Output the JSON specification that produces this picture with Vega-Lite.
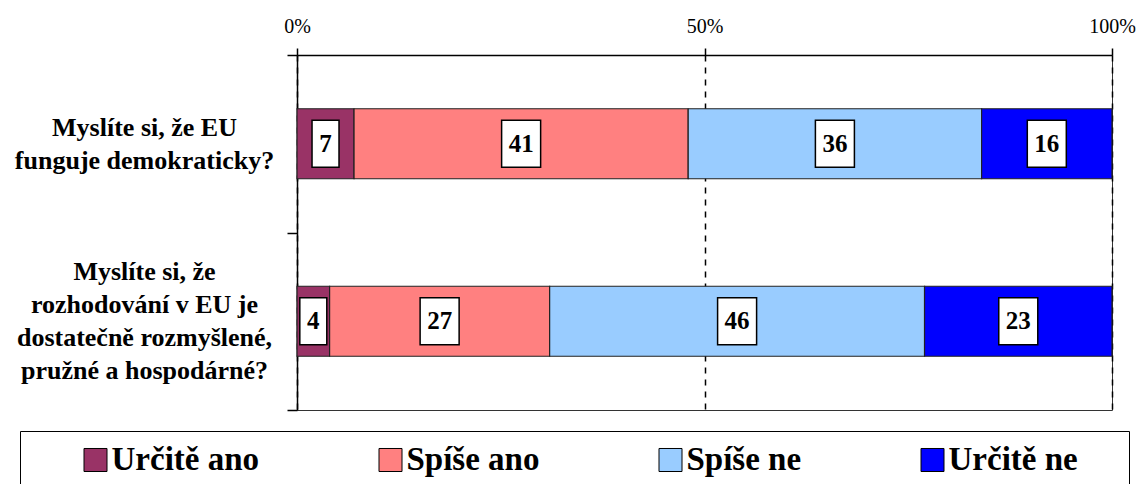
{
  "$schema": "https://vega.github.io/schema/vega-lite/v6.json",
  "width": 815,
  "height": 355,
  "autosize": {"type": "none"},
  "padding": {"left": 297, "top": 55, "right": 26, "bottom": 74},
  "background": "white",
  "data": {
    "values": [
      {"q": "Myslíte si, že EU funguje demokraticky?", "cat": "Určitě ano", "k": 1, "v": 7},
      {"q": "Myslíte si, že EU funguje demokraticky?", "cat": "Spíše ano", "k": 2, "v": 41},
      {"q": "Myslíte si, že EU funguje demokraticky?", "cat": "Spíše ne", "k": 3, "v": 36},
      {"q": "Myslíte si, že EU funguje demokraticky?", "cat": "Určitě ne", "k": 4, "v": 16},
      {"q": "Myslíte si, že rozhodování v EU je dostatečně rozmyšlené, pružné a hospodárné?", "cat": "Určitě ano", "k": 1, "v": 4},
      {"q": "Myslíte si, že rozhodování v EU je dostatečně rozmyšlené, pružné a hospodárné?", "cat": "Spíše ano", "k": 2, "v": 27},
      {"q": "Myslíte si, že rozhodování v EU je dostatečně rozmyšlené, pružné a hospodárné?", "cat": "Spíše ne", "k": 3, "v": 46},
      {"q": "Myslíte si, že rozhodování v EU je dostatečně rozmyšlené, pružné a hospodárné?", "cat": "Určitě ne", "k": 4, "v": 23}
    ]
  },
  "config": {
    "font": "Liberation Serif",
    "view": {"stroke": "#333", "strokeWidth": 1},
    "axis": {"labelColor": "black", "domainColor": "black", "tickColor": "black"}
  },
  "encoding": {
    "y": {
      "field": "q",
      "type": "nominal",
      "sort": ["Myslíte si, že EU funguje demokraticky?", "Myslíte si, že rozhodování v EU je dostatečně rozmyšlené, pružné a hospodárné?"],
      "title": null,
      "scale": {"paddingInner": 0, "paddingOuter": 0},
      "axis": {
        "orient": "left",
        "tickBand": "extent",
        "tickSize": 10,
        "tickWidth": 1.5,
        "domainWidth": 1.5,
        "labelAlign": "center",
        "labelBaseline": "middle",
        "labelPadding": 143,
        "labelFont": "Liberation Serif",
        "labelFontSize": 26,
        "labelFontWeight": "bold",
        "labelLineHeight": 33,
        "labelLimit": 0,
        "labelOffset": {"condition": {"test": "datum.value == 'Myslíte si, že EU funguje demokraticky?'", "value": -16.5}, "value": -49.5},
        "labelExpr": "datum.extra ? '' : (datum.value == 'Myslíte si, že EU funguje demokraticky?' ? ['Myslíte si, že EU', 'funguje demokraticky?'] : ['Myslíte si, že', 'rozhodování v EU je', 'dostatečně rozmyšlené,', 'pružné a hospodárné?'])"
      }
    }
  },
  "layer": [
    {
      "mark": {"type": "bar", "size": 70, "stroke": "#222", "strokeWidth": 1.2},
      "encoding": {
        "x": {
          "field": "v",
          "type": "quantitative",
          "stack": "zero",
          "title": null,
          "scale": {"domain": [0, 100], "nice": false},
          "axis": {
            "orient": "top",
            "values": [0, 50, 100],
            "labelExpr": "datum.value + '%'",
            "labelFlush": false,
            "grid": true,
            "gridColor": "black",
            "gridDash": [6, 6],
            "gridWidth": 1.5,
            "domainWidth": 1.5,
            "tickSize": 7,
            "tickWidth": 1.5,
            "labelPadding": 12,
            "labelFont": "Liberation Serif",
            "labelFontSize": 20,
            "labelFontWeight": "normal"
          }
        },
        "color": {
          "field": "cat",
          "type": "nominal",
          "scale": {
            "domain": ["Určitě ano", "Spíše ano", "Spíše ne", "Určitě ne"],
            "range": ["#993366", "#FF8080", "#99CCFF", "#0000FF"]
          },
          "legend": {
            "title": " ",
            "titleOrient": "right",
            "titleFontSize": 10,
            "titlePadding": 40,
            "orient": "none",
            "legendX": -277,
            "legendY": 376,
            "direction": "horizontal",
            "columnPadding": 67,
            "clipHeight": 35,
            "labelFont": "Liberation Serif",
            "labelFontSize": 33,
            "labelFontWeight": "bold",
            "labelColor": "black",
            "labelOffset": 4,
            "labelLimit": 0,
            "padding": 11.5,
            "strokeColor": "black",
            "fillColor": "white",
            "symbolType": "M0.387,-0.307L1,-0.307L1,0.307L0.387,0.307Z",
            "symbolSize": 5625,
            "symbolStrokeColor": "black",
            "symbolStrokeWidth": 1,
            "symbolOpacity": 1
          }
        },
        "order": {"field": "k", "type": "quantitative"}
      }
    },
    {
      "mark": {"type": "point", "filled": true, "fill": "white", "stroke": "black", "strokeWidth": 1.5, "opacity": 1, "size": 2209},
      "encoding": {
        "x": {"field": "v", "type": "quantitative", "stack": "zero", "bandPosition": 0.5, "title": null},
        "detail": {"field": "cat"},
        "order": {"field": "k", "type": "quantitative"},
        "shape": {
          "condition": {"test": "datum.v < 10", "value": "M-0.574,-1L0.574,-1L0.574,1L-0.574,1Z"},
          "value": "M-0.83,-1L0.83,-1L0.83,1L-0.83,1Z"
        }
      }
    },
    {
      "mark": {"type": "text", "font": "Liberation Serif", "fontSize": 25, "fontWeight": "bold", "baseline": "middle", "color": "black"},
      "encoding": {
        "x": {"field": "v", "type": "quantitative", "stack": "zero", "bandPosition": 0.5, "title": null},
        "detail": {"field": "cat"},
        "order": {"field": "k", "type": "quantitative"},
        "text": {"field": "v", "type": "quantitative"}
      }
    }
  ]
}
